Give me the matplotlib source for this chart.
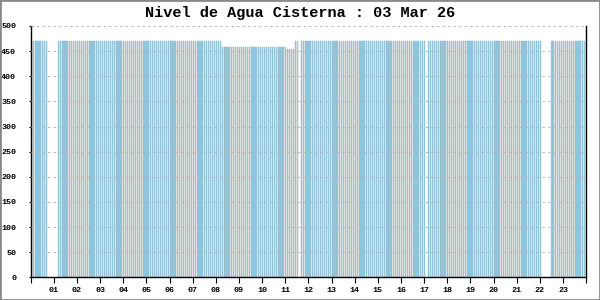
import numpy as np
import matplotlib
matplotlib.use("Agg")
import matplotlib.pyplot as plt
from matplotlib.patches import Rectangle

title = "Nivel de Agua Cisterna : 03 Mar 26"
# 5-minute readings through the day, as runs of (count, level); None = no reading
level_runs = [(9, 470), (5, None), (85, 470), (34, 458), (4, 454), (2, 470),
              (1, None), (65, 470), (1, None), (59, 470), (5, None), (18, 470)]
hour_ticks = list(range(0, 25))
hour_labels = [""] + [f"{h:02d}" for h in range(1, 24)] + [""]
y_ticks = list(range(0, 501, 50))

levels = []
for n, v in level_runs:
    levels += [v] * n
slot_hours = np.arange(len(levels)) / 12.0
vals = np.array([np.nan if v is None else v for v in levels], dtype=float)

fig = plt.figure(figsize=(6, 3), dpi=100)
ax = fig.add_axes([30.7/600, 1-277.3/300, (586.1-30.7)/600, (277.3-26)/300])

mask = ~np.isnan(vals)
ax.bar(slot_hours[mask], vals[mask], width=1/12*0.6, align="edge",
       color="#87CEEB", edgecolor="#a8b4bc", linewidth=0.3, zorder=2)

mono = "Liberation Mono"
ax.set_xlim(0, 24)
ax.set_ylim(0, 500)
ax.set_yticks(y_ticks)
ax.set_yticklabels([str(v) for v in y_ticks], family=mono, fontsize=6, weight="bold")
ax.set_xticks(hour_ticks)
ax.set_xticklabels(hour_labels, family=mono, fontsize=6, weight="bold")
for yv in y_ticks[1:]:
    ax.axhline(yv, color="#b8b8b8", lw=0.8, ls=(0, (2, 3)), zorder=3)

ax.tick_params(axis="y", direction="inout", length=3, width=0.8, pad=9)
ax.tick_params(axis="x", direction="out", length=4.3, width=0.8, pad=3)
for s in ["left", "right"]:
    ax.spines[s].set_color("black")
    ax.spines[s].set_linewidth(1)
ax.spines["top"].set_visible(False)
ax.spines["bottom"].set_linestyle((0, (1, 1)))
ax.spines["bottom"].set_linewidth(1)

fig.text(0.5, 1-13/300, title, ha="center", va="center",
         family=mono, fontsize=11, weight="bold")

fig.patches.append(Rectangle((0, 0), 1, 1, transform=fig.transFigure,
                             fill=False, edgecolor="#8a8a8a", linewidth=2))

fig.savefig("out.png", dpi=100)
